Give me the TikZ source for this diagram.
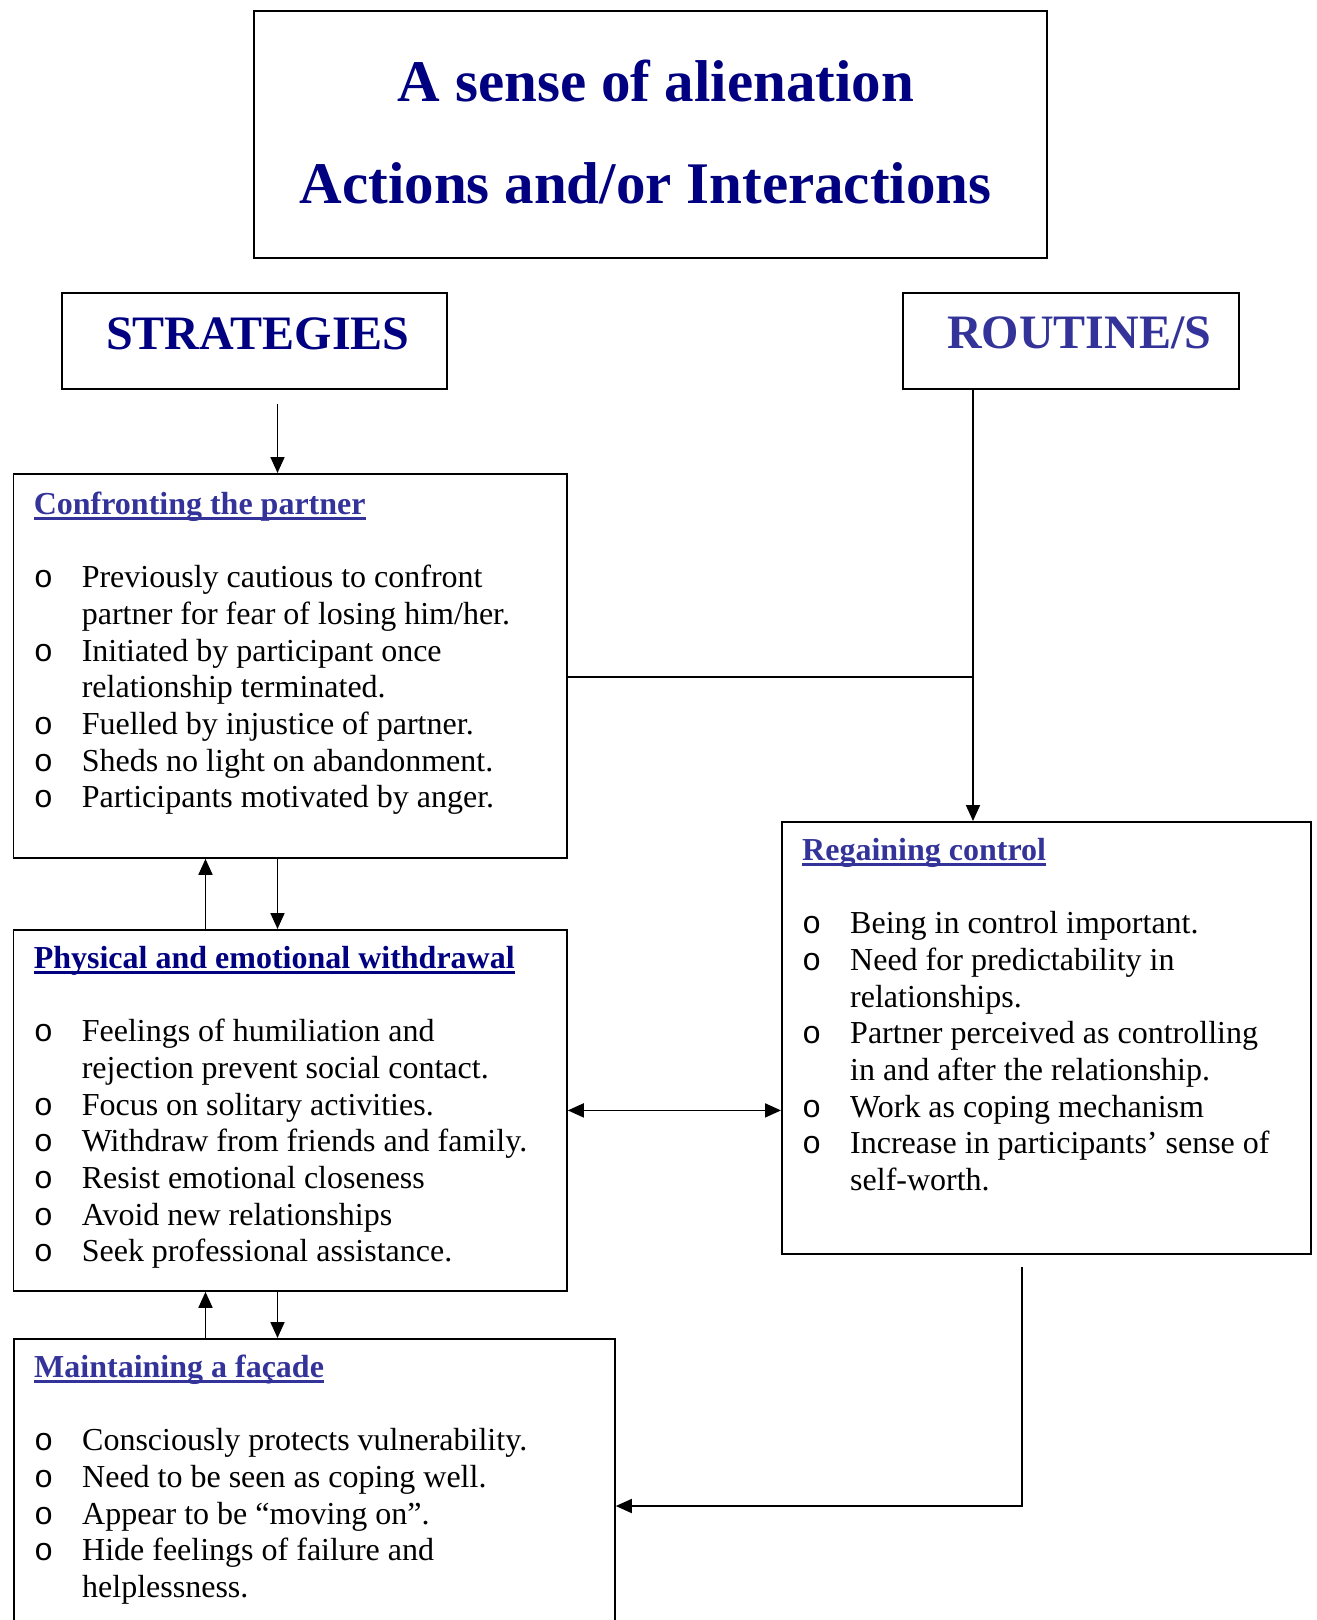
\documentclass[tikz,border=0pt]{standalone}
\usepackage{fontspec}
\setmainfont{Liberation Serif}
\newfontfamily\bulletfont{Liberation Mono}
\usetikzlibrary{arrows.meta}
\definecolor{titleblue}{RGB}{0,0,128}
\definecolor{headblue}{RGB}{51,51,153}
\tikzset{box/.style={draw, line width=1.8pt, anchor=north west, inner sep=0pt}}
\tikzset{link/.style={line width=1.8pt}}
\tikzset{arr/.style={line width=1.8pt, -{Triangle[length=16pt, width=14pt]}}}
\tikzset{darr/.style={line width=1.8pt, {Triangle[length=16pt, width=14pt]}-{Triangle[length=16pt, width=14pt]}}}
\tikzset{listtext/.style={anchor=north west, inner sep=0pt, align=left, font=\fontsize{32}{36.7}\selectfont}}
\tikzset{bigtitle/.style={anchor=base, inner sep=0pt, text=titleblue, font=\fontsize{59}{70}\selectfont\bfseries}}
\tikzset{sidetitle/.style={anchor=base west, inner sep=0pt, font=\fontsize{48}{58}\selectfont\bfseries}}
\newsavebox\hdbox
\newcommand{\hd}[2]{\sbox\hdbox{\bfseries\color{#1}#2}{\color{#1}\rlap{\rule[-6pt]{\wd\hdbox}{3pt}}}\usebox\hdbox}
\newcommand{\bul}{\makebox[48pt][l]{\bulletfont o}}
\newcommand{\indnt}{\hspace*{48pt}}
\newcommand{\topstrut}{\spaceskip=0pt\xspaceskip=0pt\relax\rule{0pt}{30pt}}

\begin{document}
\begin{tikzpicture}[x=1pt, y=-1pt]
\useasboundingbox (0,0) rectangle (1317,1620);

\node[box, minimum width=793pt, minimum height=247pt] (title) at (253,10) {};
\node[bigtitle] (title1) at (656,101.4) {A sense of alienation};
\node[bigtitle] (title2) at (645.6,203.7) {Actions and/or Interactions};

\node[box, minimum width=385pt, minimum height=96pt] (strat) at (61,292) {};
\node[sidetitle, text=titleblue] (strattext) at (106,349) {STRATEGIES};
\node[box, minimum width=336pt, minimum height=96pt] (routine) at (902,292) {};
\node[sidetitle, text=headblue] (routinetext) at (947,348) {ROUTINE/S};

\node[box, minimum width=553.4pt, minimum height=384pt] (confront) at (12.6,473) {};
\node[listtext, text width=530pt] (confronttext) at ([shift={(21,11)}]confront.north west) {\topstrut\hd{headblue}{Confronting the partner}\\[36.7pt]
\bul Previously cautious to confront\\
\indnt partner for fear of losing him/her.\\
\bul Initiated by participant once\\
\indnt relationship terminated.\\
\bul Fuelled by injustice of partner.\\
\bul Sheds no light on abandonment.\\
\bul Participants motivated by anger.};

\node[box, minimum width=553.4pt, minimum height=361pt] (physical) at (12.6,929) {};
\node[listtext, text width=530pt] (physicaltext) at ([shift={(21,9)}]physical.north west) {\topstrut\hd{titleblue}{Physical and emotional withdrawal}\\[36.7pt]
\bul Feelings of humiliation and\\
\indnt rejection prevent social contact.\\
\bul Focus on solitary activities.\\
\bul Withdraw from friends and family.\\
\bul Resist emotional closeness\\
\bul Avoid new relationships\\
\bul Seek professional assistance.};

\node[box, minimum width=529pt, minimum height=432pt] (regain) at (781,821) {};
\node[listtext, text width=505pt] (regaintext) at ([shift={(21,9)}]regain.north west) {\topstrut\hd{headblue}{Regaining control}\\[36.7pt]
\bul Being in control important.\\
\bul Need for predictability in\\
\indnt relationships.\\
\bul Partner perceived as controlling\\
\indnt in and after the relationship.\\
\bul Work as coping mechanism\\
\bul Increase in participants’ sense of\\
\indnt self-worth.};

\node[box, minimum width=601pt, minimum height=300pt] (facade) at (13,1338) {};
\node[listtext, text width=575pt] (facadetext) at ([shift={(21,9)}]facade.north west) {\topstrut\hd{headblue}{Maintaining a façade}\\[36.7pt]
\bul Consciously protects vulnerability.\\
\bul Need to be seen as coping well.\\
\bul Appear to be “moving on”.\\
\bul Hide feelings of failure and\\
\indnt helplessness.};

\coordinate (laneA) at (205.5,0);
\coordinate (laneB) at (277.5,0);
\coordinate (join) at (973,677);
\coordinate (turn) at (1022,1506);

\draw[arr, shorten <=14pt] (strat.south -| laneB) -- (confront.north -| laneB);
\draw[arr] (routine.south -| join) -- (regain.north -| join);
\draw[link] (join -| confront.east) -- (join);
\draw[arr] (confront.south -| laneB) -- (physical.north -| laneB);
\draw[arr] (physical.north -| laneA) -- (confront.south -| laneA);
\draw[arr] (physical.south -| laneB) -- (facade.north -| laneB);
\draw[arr] (facade.north -| laneA) -- (physical.south -| laneA);
\draw[darr] (physical.east) -- (physical.east -| regain.west);
\draw[arr, shorten <=12pt] (regain.south -| turn) -- (turn) -- (turn -| facade.east);
\end{tikzpicture}
\end{document}
